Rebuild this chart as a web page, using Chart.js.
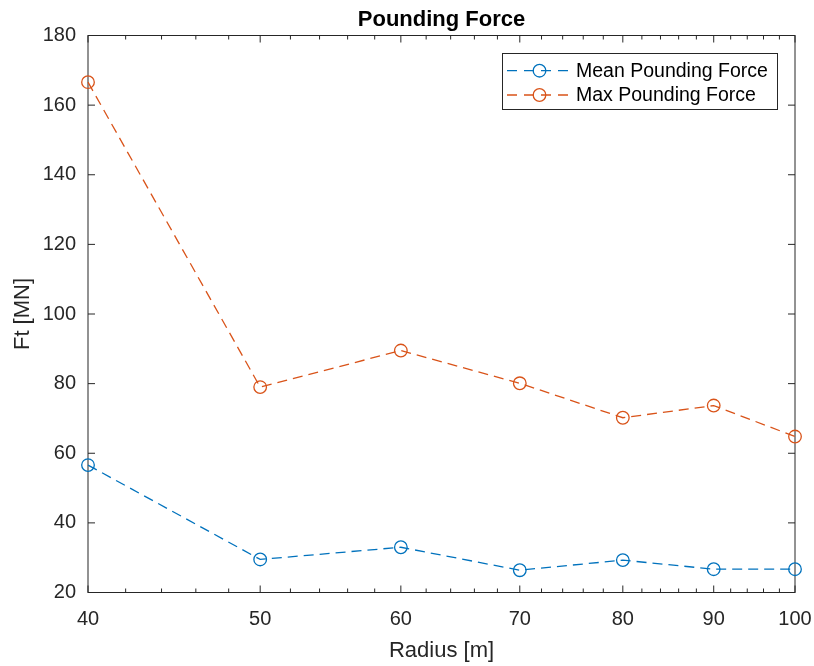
<!DOCTYPE html>
<html>
<head>
<meta charset="utf-8">
<script src="https://cdn.jsdelivr.net/npm/chart.js@4/dist/chart.umd.min.js"></script>
<style>
  html, body { margin: 0; padding: 0; background: #fff; }
  #wrap { width: 814px; height: 666px; position: relative; }
</style>
</head>
<body>
<div id="wrap"><canvas id="c" width="814" height="666"></canvas></div>
<script>
// ---- data ----
const radius = [40, 50, 60, 70, 80, 90, 100];
const meanForce = [56.6, 29.5, 33.0, 26.4, 29.3, 26.7, 26.7];
const maxForce = [166.6, 79.0, 89.5, 80.1, 70.2, 73.7, 64.8];
const xMajorTicks = [40, 50, 60, 70, 80, 90, 100];
const xMinorTicks = [42, 44, 46, 48, 52, 54, 56, 58, 62, 64, 66, 68, 72, 74, 76, 78, 82, 84, 86, 88, 92, 94, 96, 98];
const yTicks = [20, 40, 60, 80, 100, 120, 140, 160, 180];
const seriesLabels = ['Mean Pounding Force', 'Max Pounding Force'];

const BLUE = '#0072BD';
const ORANGE = '#D95319';
const AXIS = '#262626';
const FONT = '"Liberation Sans", Arial, Helvetica, sans-serif';

const boxPlugin = {
  id: 'matlabBox',
  beforeDatasetsDraw(chart) {
    const { ctx, chartArea: a, scales } = chart;
    ctx.save();
    ctx.strokeStyle = AXIS;
    ctx.lineWidth = 1;
    ctx.strokeRect(a.left, a.top, a.right - a.left, a.bottom - a.top);
    ctx.beginPath();
    xMajorTicks.forEach(v => {
      const x = scales.x.getPixelForValue(v);
      ctx.moveTo(x, a.bottom); ctx.lineTo(x, a.bottom - 7);
      ctx.moveTo(x, a.top); ctx.lineTo(x, a.top + 7);
    });
    xMinorTicks.forEach(v => {
      const x = scales.x.getPixelForValue(v);
      ctx.moveTo(x, a.bottom); ctx.lineTo(x, a.bottom - 4);
      ctx.moveTo(x, a.top); ctx.lineTo(x, a.top + 4);
    });
    yTicks.forEach(v => {
      const y = scales.y.getPixelForValue(v);
      ctx.moveTo(a.left, y); ctx.lineTo(a.left + 7, y);
      ctx.moveTo(a.right, y); ctx.lineTo(a.right - 7, y);
    });
    ctx.stroke();
    ctx.restore();
  },
  afterDraw(chart) {
    const { ctx } = chart;
    const bx = 502, by = 53, bw = 275, bh = 56;
    ctx.save();
    ctx.fillStyle = '#fff';
    ctx.fillRect(bx, by, bw, bh);
    ctx.strokeStyle = AXIS;
    ctx.lineWidth = 1;
    ctx.strokeRect(bx + 0.5, by + 0.5, bw, bh);
    const rows = [70.7, 95];
    chart.data.datasets.forEach((ds, i) => {
      const y = rows[i];
      ctx.strokeStyle = ds.borderColor;
      ctx.lineWidth = 1.3;
      ctx.setLineDash([10, 7]);
      ctx.beginPath();
      ctx.moveTo(507, y); ctx.lineTo(571, y);
      ctx.stroke();
      ctx.setLineDash([]);
      ctx.beginPath();
      ctx.arc(539.5, y, 6.3, 0, Math.PI * 2);
      ctx.stroke();
      ctx.fillStyle = '#000';
      ctx.font = '19.5px ' + FONT;
      ctx.textAlign = 'left';
      ctx.textBaseline = 'middle';
      ctx.fillText(ds.label, 576, y + 0.5);
    });
    ctx.restore();
  }
};

new Chart(document.getElementById('c'), {
  type: 'line',
  data: {
    labels: radius,
    datasets: [
      {
        label: seriesLabels[0],
        data: radius.map((r, i) => ({ x: r, y: meanForce[i] })),
        borderColor: BLUE,
        backgroundColor: 'rgba(0,0,0,0)',
        borderWidth: 1.3,
        borderDash: [10, 6],
        pointStyle: 'circle',
        pointRadius: 6.3,
        pointBorderWidth: 1.3,
        pointBackgroundColor: 'rgba(0,0,0,0)',
        pointBorderColor: BLUE,
        tension: 0,
        clip: false
      },
      {
        label: seriesLabels[1],
        data: radius.map((r, i) => ({ x: r, y: maxForce[i] })),
        borderColor: ORANGE,
        backgroundColor: 'rgba(0,0,0,0)',
        borderWidth: 1.3,
        borderDash: [10, 6],
        pointStyle: 'circle',
        pointRadius: 6.3,
        pointBorderWidth: 1.3,
        pointBackgroundColor: 'rgba(0,0,0,0)',
        pointBorderColor: ORANGE,
        tension: 0,
        clip: false
      }
    ]
  },
  options: {
    responsive: false,
    animation: false,
    devicePixelRatio: 1,
    layout: { padding: { left: 10, right: 19, top: 0, bottom: 2 } },
    plugins: {
      legend: { display: false },
      tooltip: { enabled: false },
      title: {
        display: true,
        text: 'Pounding Force',
        fullSize: false,
        color: '#000',
        font: { family: FONT, size: 22, weight: 'bold', lineHeight: 1.2 },
        padding: { top: 6.4, bottom: 2.7 }
      }
    },
    scales: {
      x: {
        type: 'logarithmic',
        min: 40,
        max: 100,
        afterBuildTicks(scale) { scale.ticks = xMajorTicks.map(v => ({ value: v })); },
        afterFit(scale) { scale.height = 71.5; scale.paddingRight = 0; scale.paddingLeft = 0; },
        grid: { display: false, drawTicks: false },
        border: { display: false },
        ticks: {
          autoSkip: false,
          maxRotation: 0,
          padding: 15,
          color: AXIS,
          font: { family: FONT, size: 20 },
          callback: (v) => String(v)
        },
        title: {
          display: true,
          text: 'Radius [m]',
          color: AXIS,
          padding: 0,
          font: { family: FONT, size: 22, lineHeight: 1.2 }
        }
      },
      y: {
        type: 'linear',
        min: 20,
        max: 180,
        afterBuildTicks(scale) { scale.ticks = yTicks.map(v => ({ value: v })); },
        afterFit(scale) { scale.width = 78; scale.paddingTop = 0; scale.paddingBottom = 0; },
        grid: { display: false, drawTicks: false },
        border: { display: false },
        ticks: {
          padding: 12,
          color: AXIS,
          font: { family: FONT, size: 20 },
          callback: (v) => String(v)
        },
        title: {
          display: true,
          text: 'Ft [MN]',
          color: AXIS,
          padding: 0,
          font: { family: FONT, size: 22, lineHeight: 1.2 }
        }
      }
    }
  },
  plugins: [boxPlugin]
});
</script>
</body>
</html>
